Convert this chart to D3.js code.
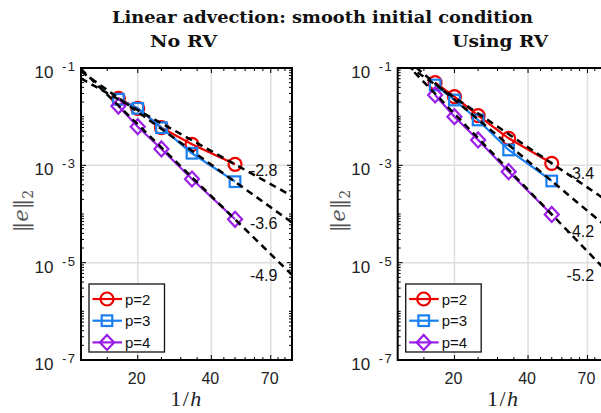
<!DOCTYPE html>
<html><head><meta charset="utf-8">
<script src="https://cdn.jsdelivr.net/npm/d3@7/dist/d3.min.js"></script>
<style>html,body{margin:0;padding:0;background:#fff;overflow:hidden}</style>
</head><body><svg id="c" width="601" height="413"></svg>
<script>
// ---- data ----
const invH = [16.67, 20, 25, 33.33, 50];
const seriesNames = ["p=2", "p=3", "p=4"];
const noRV_p2 = [0.0238, 0.0148, 0.00593, 0.0027, 0.00105];
const noRV_p3 = [0.02275, 0.01485, 0.00593, 0.00177, 0.000461];
const noRV_p4 = [0.0165, 0.00622, 0.00217, 0.000524, 0.0000778];
const rv_p2 = [0.0499, 0.0257, 0.01047, 0.0036, 0.0011];
const rv_p3 = [0.0448, 0.0220, 0.00855, 0.00207, 0.000477];
const rv_p4 = [0.0279, 0.0100, 0.00332, 0.00074, 0.000098];
const noRV_slopes = [-2.8, -3.6, -4.9];
const rv_slopes = [-3.4, -4.2, -5.2];
const slopeLabelX = 57.5;
const noRV_labelY = [8.0e-4, 6.4e-5, 5.6e-6];
const rv_labelY = [6.9e-4, 4.4e-5, 5.6e-6];
const xTicks = [20, 40, 70];
const xMinor = [15, 25, 30, 35, 45, 50, 55, 60, 65, 75, 80];
const yTicks = [1e-1, 1e-3, 1e-5, 1e-7];
const yTickExp = ["-1", "-3", "-5", "-7"];
const mainTitle = "Linear advection: smooth initial condition";
const panelTitles = ["No RV", "Using RV"];

const colors = ["#ee0000", "#1a7ff0", "#9b1ee8"];
const markers = ["circle", "square", "diamond"];

const svg = d3.select("#c");
const W = 211, H = 292;
const x = d3.scaleLog().domain([11.72, 85.5]).range([0, W]);
const y = d3.scaleLog().domain([1e-1, 1e-7]).range([0, H]);

function fitText(sel, width) {
  sel.attr("textLength", width).attr("lengthAdjust", "spacingAndGlyphs");
  return sel;
}

fitText(svg.append("text").attr("x", 322.5).attr("y", 22.7).attr("text-anchor", "middle")
  .attr("font-family", "DejaVu Serif").attr("font-weight", "bold").attr("font-size", 16.5)
  .attr("fill", "#111").text(mainTitle), 421);

function marker(g, type, cx, cy, color) {
  if (type === "circle") g.append("circle").attr("cx", cx).attr("cy", cy).attr("r", 6.5)
    .attr("fill", "none").attr("stroke", color).attr("stroke-width", 2.2);
  else if (type === "square") g.append("rect").attr("x", cx - 5.3).attr("y", cy - 5.3)
    .attr("width", 10.6).attr("height", 10.6).attr("fill", "none").attr("stroke", color).attr("stroke-width", 2.2);
  else g.append("path").attr("d", `M${cx},${cy - 7.5}L${cx + 7},${cy}L${cx},${cy + 7.5}L${cx - 7},${cy}Z`)
    .attr("fill", "none").attr("stroke", color).attr("stroke-width", 2.2);
}

function panel(ox, title, titleW, data, slopes, labelY, id) {
  const g = svg.append("g").attr("transform", `translate(${ox},68)`);
  g.append("defs").append("clipPath").attr("id", id).append("rect")
    .attr("x", 0).attr("y", 0).attr("width", W).attr("height", H);
  // grid
  g.selectAll(".gx").data(xTicks).enter().append("line")
    .attr("x1", d => x(d)).attr("x2", d => x(d)).attr("y1", 0).attr("y2", H)
    .attr("stroke", "#dedede").attr("stroke-width", 1.5);
  g.selectAll(".gy").data(yTicks).enter().append("line")
    .attr("y1", d => y(d)).attr("y2", d => y(d)).attr("x1", 0).attr("x2", W)
    .attr("stroke", "#dedede").attr("stroke-width", 1.5);
  // y minor ticks
  const yMinor = [];
  for (let e = -7; e < -1; e++) for (let k = 1; k < 10; k++) {
    const v = k * Math.pow(10, e);
    if (!yTicks.some(t => Math.abs(t - v) / t < 1e-6)) yMinor.push(v);
  }
  const tk = g.append("g").attr("stroke", "#000").attr("stroke-width", 1);
  yMinor.forEach(v => {
    tk.append("line").attr("x1", 0).attr("x2", 3).attr("y1", y(v)).attr("y2", y(v));
    tk.append("line").attr("x1", W).attr("x2", W - 3).attr("y1", y(v)).attr("y2", y(v));
  });
  yTicks.forEach(v => {
    tk.append("line").attr("x1", 0).attr("x2", 5).attr("y1", y(v)).attr("y2", y(v));
    tk.append("line").attr("x1", W).attr("x2", W - 5).attr("y1", y(v)).attr("y2", y(v));
  });
  xMinor.forEach(v => {
    tk.append("line").attr("x1", x(v)).attr("x2", x(v)).attr("y1", H).attr("y2", H - 3);
    tk.append("line").attr("x1", x(v)).attr("x2", x(v)).attr("y1", 0).attr("y2", 3);
  });
  xTicks.forEach(v => {
    tk.append("line").attr("x1", x(v)).attr("x2", x(v)).attr("y1", H).attr("y2", H - 5);
    tk.append("line").attr("x1", x(v)).attr("x2", x(v)).attr("y1", 0).attr("y2", 5);
  });
  // box
  g.append("rect").attr("width", W).attr("height", H).attr("fill", "none")
    .attr("stroke", "#000").attr("stroke-width", 2);
  // tick labels
  xTicks.forEach(v => g.append("text").attr("x", x(v) - 1).attr("y", H + 24)
    .attr("text-anchor", "middle").attr("font-family", "Liberation Sans").attr("font-size", 16)
    .attr("fill", "#222").text(v));
  yTicks.forEach((v, i) => {
    g.append("text").attr("x", -27.5).attr("y", y(v) + 10).attr("text-anchor", "end")
      .attr("font-family", "Liberation Sans").attr("font-size", 17).attr("fill", "#222").text("10");
    g.append("text").attr("x", -4.5).attr("y", y(v) + 3).attr("text-anchor", "end")
      .attr("font-family", "Liberation Sans").attr("font-size", 13).attr("fill", "#222")
      .attr("letter-spacing", 1.5).text(yTickExp[i]);
  });
  // axis labels
  const xl = g.append("text").attr("x", W / 2).attr("y", H + 46).attr("text-anchor", "middle")
    .attr("font-family", "Liberation Serif").attr("font-size", 22).attr("fill", "#222")
    .attr("letter-spacing", 1.5);
  xl.append("tspan").text("1/");
  xl.append("tspan").attr("font-style", "italic").text("h");
  const yl = g.append("text").attr("transform", `translate(${-53},${H / 2 - 3}) rotate(-90)`)
    .attr("text-anchor", "middle").attr("font-family", "DejaVu Serif").attr("font-size", 21).attr("fill", "#555");
  yl.append("tspan").text("\u2016");
  yl.append("tspan").attr("font-style", "italic").text("e");
  yl.append("tspan").text("\u2016");
  yl.append("tspan").attr("font-size", 14).attr("dy", 5).text("2");
  // title
  fitText(g.append("text").attr("x", W / 2 - 3).attr("y", -21.3).attr("text-anchor", "middle")
    .attr("font-family", "DejaVu Serif").attr("font-weight", "bold").attr("font-size", 17)
    .attr("fill", "#111").text(title), titleW);
  // data
  const pg = g.append("g").attr("clip-path", `url(#${id})`);
  const line = d3.line().x(d => x(d[0])).y(d => y(d[1]));
  data.forEach((s, i) => {
    const pts = invH.map((v, j) => [v, s[j]]);
    pg.append("path").attr("d", line(pts)).attr("fill", "none")
      .attr("stroke", colors[i]).attr("stroke-width", 2.2);
    pts.forEach(p => marker(pg, markers[i], x(p[0]), y(p[1]), colors[i]));
  });
  // slope reference lines through the last point
  data.forEach((s, i) => {
    const x0 = invH[invH.length - 1], y0 = s[s.length - 1];
    const [a, b] = x.domain();
    const f = v => y0 * Math.pow(v / x0, slopes[i]);
    pg.append("line").attr("x1", x(a)).attr("y1", y(f(a))).attr("x2", x(b)).attr("y2", y(f(b)))
      .attr("stroke", "#000").attr("stroke-width", 2.5).attr("stroke-dasharray", "7,5");
    g.append("text").attr("x", x(slopeLabelX)).attr("y", y(labelY[i]) + 6)
      .attr("font-family", "Liberation Sans").attr("font-size", 16).attr("fill", "#111")
      .text(slopes[i].toFixed(1));
  });
  // legend
  const lg = g.append("g").attr("transform", "translate(8,216)");
  lg.append("rect").attr("width", 75.5).attr("height", 68).attr("fill", "#fff")
    .attr("stroke", "#111").attr("stroke-width", 1.3);
  seriesNames.forEach((n, i) => {
    const yy = 15 + i * 21.7;
    lg.append("line").attr("x1", 3.5).attr("x2", 33).attr("y1", yy).attr("y2", yy)
      .attr("stroke", colors[i]).attr("stroke-width", 2.2);
    marker(lg, markers[i], 18, yy, colors[i]);
    lg.append("text").attr("x", 36).attr("y", yy + 5.5).attr("font-family", "Liberation Sans")
      .attr("font-size", 15).attr("fill", "#111").text(n);
  });
}

panel(81, panelTitles[0], 67, [noRV_p2, noRV_p3, noRV_p4], noRV_slopes, noRV_labelY, "clipL");
panel(397.7, panelTitles[1], 96, [rv_p2, rv_p3, rv_p4], rv_slopes, rv_labelY, "clipR");
</script></body></html>
